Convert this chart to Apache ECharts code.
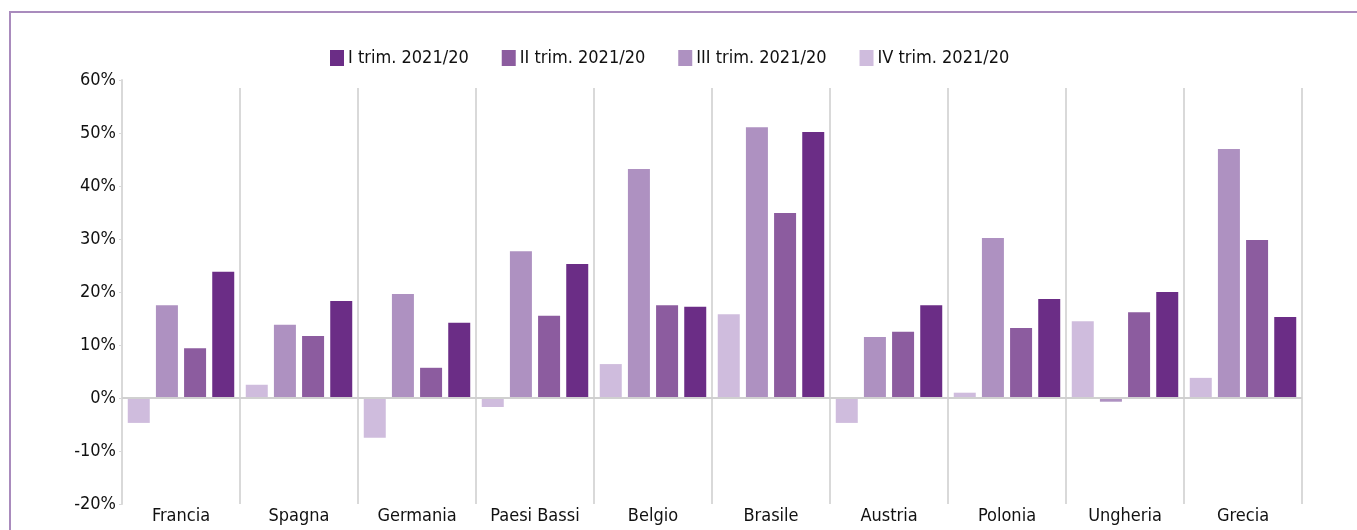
<!DOCTYPE html>
<html>
<head>
<meta charset="utf-8">
<script src="https://cdn.jsdelivr.net/npm/echarts@6/dist/echarts.min.js"></script>
<style>
html,body{margin:0;padding:0;background:#fff;}
#frame{position:absolute;left:9px;top:11px;width:1400px;height:600px;border-left:2px solid #a98bbd;border-top:2px solid #a98bbd;}
#chart{position:absolute;left:0;top:0;width:1357px;height:530px;}
</style>
</head>
<body>
<div id="frame"></div>
<div id="chart"></div>
<script>
const categories = ['Francia','Spagna','Germania','Paesi Bassi','Belgio','Brasile','Austria','Polonia','Ungheria','Grecia'];
const seriesNames = ['I trim. 2021/20','II trim. 2021/20','III trim. 2021/20','IV trim. 2021/20'];
const trimI   = [23.8, 18.3, 14.2, 25.3, 17.2, 50.2, 17.5, 18.7, 20.0, 15.3];
const trimII  = [9.4, 11.7, 5.7, 15.5, 17.5, 34.9, 12.5, 13.2, 16.2, 29.8];
const trimIII = [17.5, 13.8, 19.6, 27.7, 43.2, 51.1, 11.5, 30.2, -0.7, 47.0];
const trimIV  = [-4.7, 2.5, -7.5, -1.7, 6.4, 15.8, -4.7, 1.0, 14.5, 3.8];
const yTicks = [-20, -10, 0, 10, 20, 30, 40, 50, 60];

const colors = {I:'#6b2d86', II:'#8c5c9f', III:'#ae91c1', IV:'#cfbcdd'};
const FONT = '"DejaVu Sans Condensed", sans-serif';

const chart = echarts.init(document.getElementById('chart'), null, {renderer:'canvas'});
function bar(name, data, color, extra){
  return Object.assign({
    name: name, type:'bar', data: data, barWidth: 22, barGap: '28%',
    itemStyle:{color: color}
  }, extra||{});
}
chart.setOption({
  animation:false,
  textStyle:{fontFamily:FONT},
  legend:{
    data: seriesNames,
    left: 325, top: 44,
    itemWidth: 14, itemHeight: 16, itemGap: 33,
    icon: 'rect',
    textStyle:{fontFamily:FONT, fontSize:18, color:'#111', padding:[0,0,0,-1]}
  },
  grid:[
    {left:122, right:55, top:80, bottom:26, containLabel:false},
    {left:122, right:55, top:88, bottom:26, containLabel:false}
  ],
  xAxis:[{
    type:'category', data: categories, boundaryGap:true, gridIndex:0,
    axisLine:{show:false}, axisTick:{show:false},
    axisLabel:{fontFamily:FONT, fontSize:18, color:'#111', margin:3, interval:0},
    splitLine:{show:false}
  },{
    type:'category', data: categories, boundaryGap:true, gridIndex:1,
    axisLine:{show:false}, axisTick:{show:false}, axisLabel:{show:false},
    splitLine:{show:true, interval:0, lineStyle:{color:'#d9d9d9', width:2}}
  }],
  yAxis:[{
    type:'value', min: yTicks[0], max: yTicks[yTicks.length-1], interval: 10, gridIndex:0,
    axisLine:{show:true, lineStyle:{color:'#d9d9d9', width:2}},
    axisTick:{show:true, length:3, lineStyle:{color:'#d9d9d9'}},
    splitLine:{show:false},
    axisLabel:{fontFamily:FONT, fontSize:18, color:'#111', margin:6, formatter: v => v + '%'}
  },{
    type:'value', min: yTicks[0], max: yTicks[yTicks.length-1], interval: 10, gridIndex:1,
    show:false
  }],
  series:[
    bar(seriesNames[3], trimIV, colors.IV, {
      z: 3,
      markLine:{silent:true, symbol:'none', label:{show:false},
        lineStyle:{color:'#d0d0d0', width:2, type:'solid'}, data:[{yAxis:0}]}
    }),
    bar(seriesNames[2], trimIII, colors.III),
    bar(seriesNames[1], trimII, colors.II),
    bar(seriesNames[0], trimI, colors.I)
  ]
});
</script>
</body>
</html>
